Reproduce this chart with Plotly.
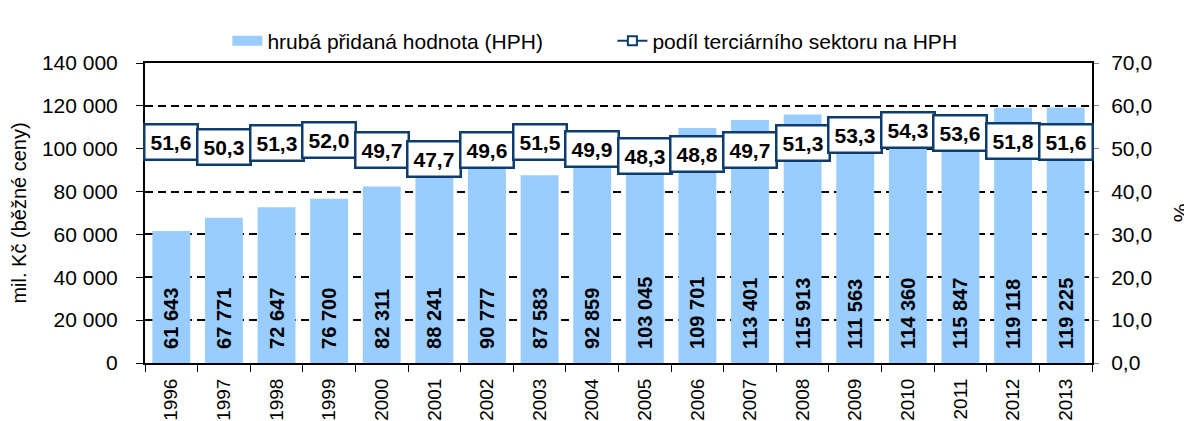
import plotly.graph_objects as go

years = ["1996", "1997", "1998", "1999", "2000", "2001", "2002", "2003", "2004",
         "2005", "2006", "2007", "2008", "2009", "2010", "2011", "2012", "2013"]
hph = [61643, 67771, 72647, 76700, 82311, 88241, 90777, 87583, 92859,
       103045, 109701, 113401, 115913, 111563, 114360, 115847, 119118, 119225]
podil = [51.6, 50.3, 51.3, 52.0, 49.7, 47.7, 49.6, 51.5, 49.9,
         48.3, 48.8, 49.7, 51.3, 53.3, 54.3, 53.6, 51.8, 51.6]

FONT = "Liberation Sans, Arial, sans-serif"
NAVY = "#0F3C6E"
BAR = "#99CCFF"

xs = [int(y) for y in years]

fig = go.Figure()
fig.add_trace(go.Bar(
    x=xs, y=hph, name="hrubá přidaná hodnota (HPH)", showlegend=False,
    marker=dict(color=BAR, line=dict(width=0)),
    texttemplate="\u00a0\u00a0%{y:,d}", textposition="inside", insidetextanchor="start",
    textangle=-90, textfont=dict(family=FONT, size=20, color="black", weight="bold"),
))
# legend entry for the bars (wide rectangle symbol)
fig.add_trace(go.Scatter(
    x=[None], y=[None], name="hrubá přidaná hodnota (HPH)", mode="lines",
    line=dict(color=BAR, width=13),
))
fig.add_trace(go.Scatter(
    x=xs, y=podil, name="podíl terciárního sektoru na HPH", yaxis="y2",
    mode="lines+markers", line=dict(color=NAVY, width=2),
    marker=dict(symbol="square", size=9, color="white", line=dict(color=NAVY, width=2)),
))

for x, v in zip(xs, podil):
    fig.add_annotation(
        x=x, y=v, xref="x", yref="y2", showarrow=False,
        text="<b>" + f"{v:.1f}".replace(".", ",") + "</b>",
        font=dict(family=FONT, size=21, color="black"),
        bgcolor="white", bordercolor=NAVY, borderwidth=2.5, borderpad=5,
    )

fig.update_layout(
    width=1184, height=413,
    margin=dict(l=137, r=100, t=48, b=58),
    paper_bgcolor="white", plot_bgcolor="white",
    separators=", ",
    font=dict(family=FONT, size=21, color="black"),
    bargap=0.28,
    showlegend=True,
    legend=dict(orientation="h", x=0.087, xanchor="left", y=1.005, yanchor="bottom",
                font=dict(size=21), entrywidth=340, tracegroupgap=0,
                bgcolor="rgba(0,0,0,0)"),
    xaxis=dict(
        range=[1995.5, 2013.5], tickvals=xs, ticktext=years, tickangle=-90,
        showline=True, linecolor="black", linewidth=2, mirror=True,
        ticks="", showgrid=False, zeroline=False, tickfont=dict(size=19),
        automargin=False, ticklabelstandoff=6,
        minor=dict(tick0=1995.5, dtick=1, ticks="outside", ticklen=7,
                   tickcolor="black", tickwidth=1, showgrid=False),
    ),
    yaxis=dict(
        range=[0, 140000], dtick=20000, tickformat=",d", showline=True, linecolor="black",
        linewidth=2, mirror=True, ticks="outside", ticklen=7, tickcolor="black",
        showgrid=True, gridcolor="black", griddash="8px,5px", gridwidth=1.5,
        title=dict(text="mil. Kč (běžné ceny)", font=dict(size=20), standoff=12),
        zeroline=False, automargin=False, ticklabelstandoff=14,
    ),
    yaxis2=dict(
        range=[0, 70], dtick=10, tickformat=".1f", overlaying="y", side="right",
        showline=True, linecolor="black", linewidth=2, ticks="outside", ticklen=5,
        tickcolor="#888888", showgrid=False, zeroline=False, automargin=False,
        ticklabelstandoff=8,
        title=dict(text="%", font=dict(size=21), standoff=22),
    ),
)

fig.write_html("out.html")
